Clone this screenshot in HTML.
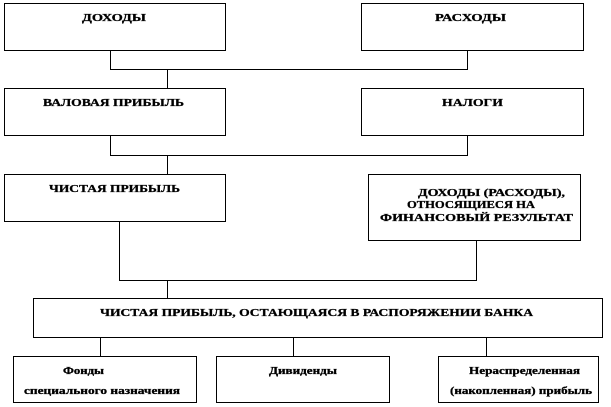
<!DOCTYPE html>
<html><head><meta charset="utf-8"><style>
html,body{margin:0;padding:0;background:#fff;}
svg{display:block;}
text{font-family:"Liberation Serif","DejaVu Serif",serif;font-weight:bold;fill:#000;stroke:#000;stroke-width:0.3;}
</style></head><body>
<svg width="611" height="407" viewBox="0 0 611 407" xmlns="http://www.w3.org/2000/svg">
<g fill="none" stroke="#000" stroke-width="1" shape-rendering="crispEdges">
<rect x="4.5" y="3.5" width="221" height="47"/>
<rect x="361.5" y="3.5" width="222" height="47"/>
<rect x="4.5" y="88.5" width="221" height="47"/>
<rect x="361.5" y="88.5" width="222" height="47"/>
<rect x="4.5" y="174.5" width="221" height="47"/>
<rect x="368.5" y="174.5" width="212" height="66"/>
<rect x="33.5" y="298.5" width="569" height="39"/>
<rect x="13.5" y="356.5" width="183" height="46"/>
<rect x="216.5" y="356.5" width="173" height="46"/>
<rect x="438.5" y="356.5" width="160" height="46"/>
<polyline points="110.5,51 110.5,69.5 467.5,69.5 467.5,51"/>
<line x1="167.5" y1="69.5" x2="167.5" y2="88"/>
<polyline points="110.5,136 110.5,155.5 467.5,155.5 467.5,136"/>
<line x1="167.5" y1="155.5" x2="167.5" y2="174"/>
<polyline points="119.5,222 119.5,280.5 476.5,280.5 476.5,241"/>
<line x1="167.5" y1="280.5" x2="167.5" y2="298"/>
<line x1="100.5" y1="338" x2="100.5" y2="356"/>
<line x1="293.5" y1="338" x2="293.5" y2="356"/>
<line x1="486.5" y1="338" x2="486.5" y2="356"/>
</g>
<g font-size="11">
<text x="82" y="21" textLength="64" lengthAdjust="spacingAndGlyphs">ДОХОДЫ</text>
<text x="435" y="21" textLength="71" lengthAdjust="spacingAndGlyphs">РАСХОДЫ</text>
<text x="43" y="106" textLength="141" lengthAdjust="spacingAndGlyphs">ВАЛОВАЯ ПРИБЫЛЬ</text>
<text x="442" y="106" textLength="61" lengthAdjust="spacingAndGlyphs">НАЛОГИ</text>
<text x="49" y="192" textLength="131" lengthAdjust="spacingAndGlyphs">ЧИСТАЯ ПРИБЫЛЬ</text>
<text x="418" y="196" textLength="147" lengthAdjust="spacingAndGlyphs">ДОХОДЫ (РАСХОДЫ),</text>
<text x="407" y="208" textLength="128" lengthAdjust="spacingAndGlyphs">ОТНОСЯЩИЕСЯ НА</text>
<text x="380" y="221" textLength="193" lengthAdjust="spacingAndGlyphs">ФИНАНСОВЫЙ РЕЗУЛЬТАТ</text>
<text x="100" y="316" textLength="433" lengthAdjust="spacingAndGlyphs">ЧИСТАЯ ПРИБЫЛЬ, ОСТАЮЩАЯСЯ В РАСПОРЯЖЕНИИ БАНКА</text>
</g>
<g font-size="10">
<text x="63" y="374" textLength="41" lengthAdjust="spacingAndGlyphs">Фонды</text>
<text x="24" y="394" textLength="156" lengthAdjust="spacingAndGlyphs">специального назначения</text>
<text x="269" y="374" textLength="68" lengthAdjust="spacingAndGlyphs">Дивиденды</text>
<text x="469" y="374" textLength="111" lengthAdjust="spacingAndGlyphs">Нераспределенная</text>
<text x="450" y="394" textLength="142" lengthAdjust="spacingAndGlyphs">(накопленная) прибыль</text>
</g>
</svg>
</body></html>
